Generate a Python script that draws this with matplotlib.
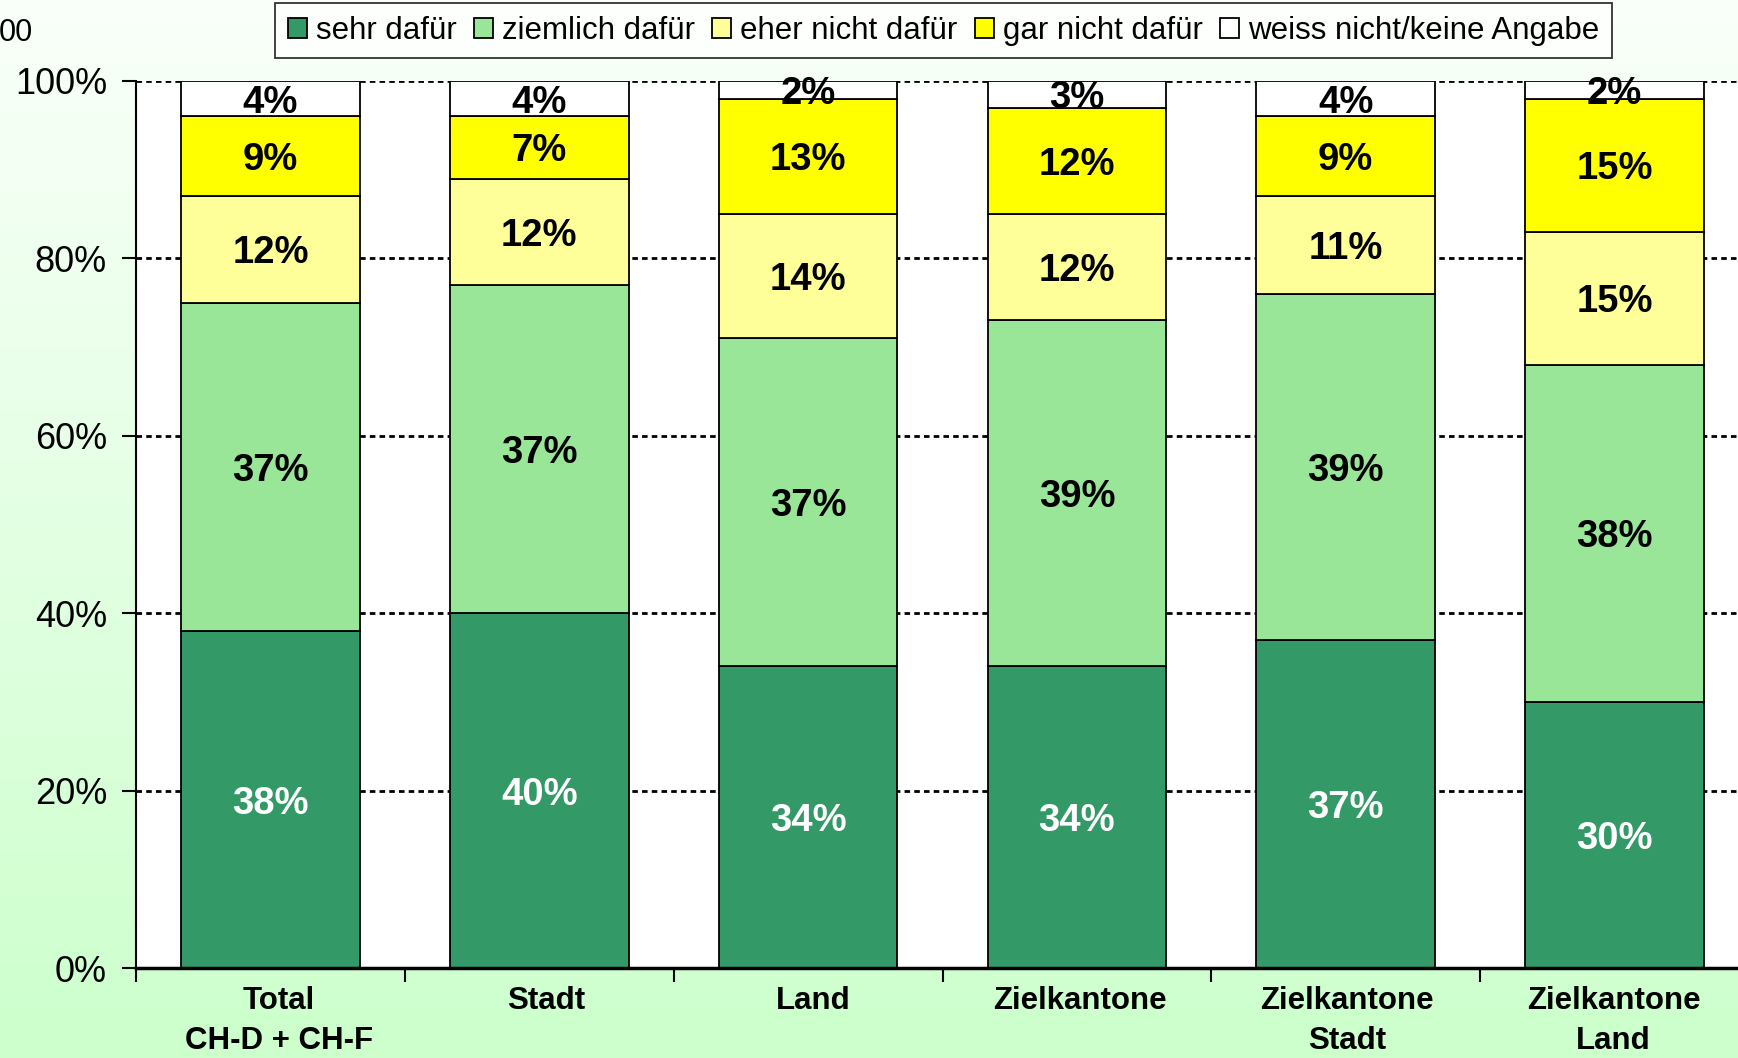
import numpy as np
import matplotlib.pyplot as plt
from matplotlib.colors import LinearSegmentedColormap

plt.rcParams['font.family'] = ['Liberation Sans', 'DejaVu Sans']

# data
categories = ["Total\nCH-D + CH-F", "Stadt", "Land", "Zielkantone",
              "Zielkantone\nStadt", "Zielkantone\nLand"]
series_names = ["sehr dafür", "ziemlich dafür", "eher nicht dafür",
                "gar nicht dafür", "weiss nicht/keine Angabe"]
sehr_dafuer = [38, 40, 34, 34, 37, 30]
ziemlich_dafuer = [37, 37, 37, 39, 39, 38]
eher_nicht = [12, 12, 14, 12, 11, 15]
gar_nicht = [9, 7, 13, 12, 9, 15]
weiss_nicht = [4, 4, 2, 3, 4, 2]

colors = ["#339966", "#99e699", "#ffff99", "#ffff00", "#ffffff"]
text_colors = ["white", "black", "black", "black", "black"]

fig = plt.figure(figsize=(17.38, 10.58), dpi=100)

# background gradient
bg = fig.add_axes([0, 0, 1, 1], zorder=-10)
grad = np.linspace(0, 1, 256).reshape(-1, 1)
cmap = LinearSegmentedColormap.from_list("bg", ["#fafffa", "#ccffcc"])
bg.imshow(grad, aspect="auto", cmap=cmap, extent=[0, 1, 0, 1], origin="upper")
bg.axis("off")

ax = fig.add_axes([0.0783, 0.085, 0.928, 0.8385])
ax.set_facecolor("white")

x = np.arange(len(categories))
all_series = [sehr_dafuer, ziemlich_dafuer, eher_nicht, gar_nicht, weiss_nicht]
bottom = np.zeros(len(categories))
handles = []
for vals, name, col, tcol in zip(all_series, series_names, colors, text_colors):
    vals = np.array(vals, dtype=float)
    bars = ax.bar(x, vals, 0.664, bottom=bottom, color=col, edgecolor="black",
                  linewidth=1.3, label=name, zorder=3)
    handles.append(bars)
    for xi, v, b in zip(x, vals, bottom):
        ax.text(xi, b + v / 2, f"{int(v)}%", ha="center", va="center_baseline",
                fontsize=27.5, fontweight="bold", color=tcol, zorder=5)
    bottom += vals

ax.set_xlim(-0.5, 5.5)
ax.set_ylim(0, 100)
ax.set_yticks([0, 20, 40, 60, 80, 100])
ax.set_yticklabels([f"{v}%" for v in [0, 20, 40, 60, 80, 100]], fontsize=26)
# category labels sit slightly right of the bars in the original
ax.set_xticks(x + np.linspace(0.032, -0.003, len(categories)))
ax.set_xticklabels(categories, fontsize=22.5, fontweight="bold", linespacing=1.45)
ax.set_xticks(np.arange(-0.5, 6, 1), minor=True)
ax.tick_params(axis="x", which="major", length=0, pad=13)
ax.tick_params(axis="x", which="minor", length=10, width=1.5, direction="out")
ax.tick_params(axis="y", length=10, width=1.5, direction="out", pad=11)

ax.yaxis.grid(True, color="black", linestyle=(0, (2, 1.5)), linewidth=2, zorder=0)
ax.set_axisbelow(True)
for s in ["top", "right"]:
    ax.spines[s].set_visible(False)
ax.spines["left"].set_linewidth(1.5)
ax.spines["bottom"].set_linewidth(2.5)
ax.spines["bottom"].set_zorder(6)

leg = fig.legend(handles=handles, loc="center", bbox_to_anchor=(0.543, 0.971),
                 ncol=5, fontsize=22.5, frameon=True, fancybox=False,
                 edgecolor="black", handlelength=0.6, handleheight=0.6,
                 handletextpad=0.3, columnspacing=0.55, borderpad=0.4,
                 borderaxespad=0)
leg.get_frame().set_linewidth(1.3)

fig.text(33 / 1738, 1 - 33 / 1058, "00", ha="right", va="center", fontsize=22)

fig.savefig("out.png", dpi=100)
